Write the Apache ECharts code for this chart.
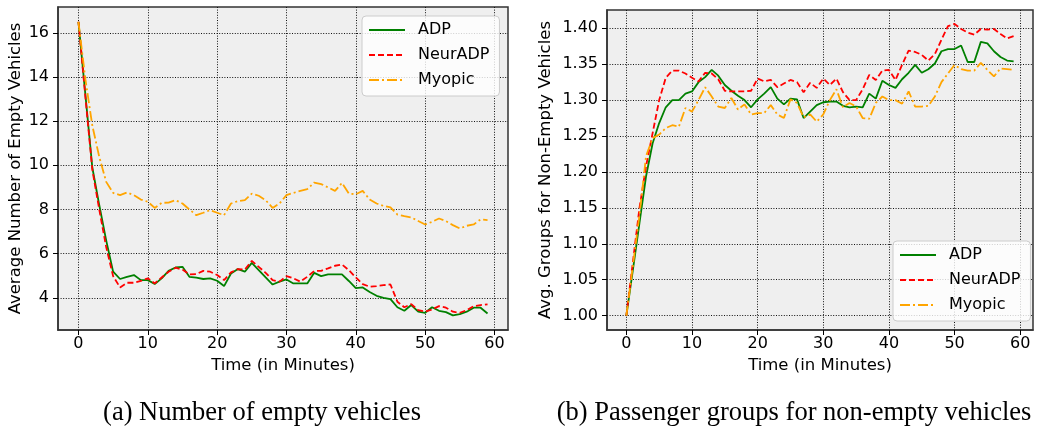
<!DOCTYPE html>
<html>
<head>
<meta charset="utf-8">
<script src="https://cdn.jsdelivr.net/npm/echarts@6/dist/echarts.min.js"></script>
<style>
  html, body { margin: 0; padding: 0; background: #fff; }
  #chart { width: 1037px; height: 428px; }
</style>
</head>
<body>
<div id="chart"></div>
<script>
const minutes = [0, 1, 2, 3, 4, 5, 6, 7, 8, 9, 10, 11, 12, 13, 14, 15, 16, 17, 18, 19,
    20, 21, 22, 23, 24, 25, 26, 27, 28, 29, 30, 31, 32, 33, 34, 35, 36, 37, 38, 39,
    40, 41, 42, 43, 44, 45, 46, 47, 48, 49, 50, 51, 52, 53, 54, 55, 56, 57, 58, 59];
const seriesNames = ['ADP', 'NeurADP', 'Myopic'];

// (a) average number of empty vehicles
const emptyAdp = [16.5, 13.2, 9.9, 8.2, 6.6, 5.18, 4.85, 4.95, 5.03, 4.8, 4.8, 4.62, 4.88, 5.22, 5.37, 5.4, 4.95, 4.91, 4.85, 4.88,
    4.77, 4.53, 5.1, 5.3, 5.18, 5.58, 5.25, 4.92, 4.6, 4.73, 4.83, 4.65, 4.65, 4.65, 5.13, 4.98, 5.06, 5.06, 5.06, 4.76,
    4.44, 4.47, 4.26, 4.09, 4.0, 3.94, 3.57, 3.41, 3.67, 3.37, 3.32, 3.57, 3.41, 3.35, 3.2, 3.26, 3.37, 3.55, 3.55, 3.29];
const emptyNeur = [16.5, 13.1, 9.8, 8.0, 6.3, 4.98, 4.47, 4.68, 4.68, 4.76, 4.88, 4.65, 4.92, 5.18, 5.36, 5.28, 5.06, 5.07, 5.22, 5.18,
    5.03, 4.8, 5.15, 5.3, 5.28, 5.67, 5.4, 5.13, 4.8, 4.73, 4.98, 4.88, 4.73, 4.95, 5.21, 5.22, 5.33, 5.45, 5.51, 5.25,
    4.92, 4.62, 4.5, 4.53, 4.57, 4.6, 3.82, 3.57, 3.71, 3.44, 3.37, 3.47, 3.62, 3.55, 3.37, 3.32, 3.44, 3.62, 3.67, 3.7];
const emptyMyopic = [16.5, 13.9, 11.8, 10.38, 9.25, 8.75, 8.65, 8.77, 8.65, 8.45, 8.35, 8.07, 8.3, 8.31, 8.42, 8.27, 8.0, 7.74, 7.85, 7.97,
    7.85, 7.74, 8.27, 8.38, 8.42, 8.72, 8.62, 8.42, 8.07, 8.27, 8.65, 8.75, 8.84, 8.92, 9.22, 9.15, 9.0, 8.84, 9.2, 8.72,
    8.69, 8.84, 8.45, 8.27, 8.16, 8.09, 7.77, 7.7, 7.64, 7.48, 7.32, 7.44, 7.59, 7.47, 7.29, 7.14, 7.26, 7.32, 7.55, 7.52];

// (b) avg. passenger groups for non-empty vehicles
const groupsAdp = [1.0, 1.064, 1.129, 1.194, 1.24, 1.268, 1.29, 1.3, 1.3, 1.309, 1.312, 1.325, 1.332, 1.342, 1.334, 1.321, 1.313, 1.306, 1.3, 1.29,
    1.301, 1.309, 1.318, 1.302, 1.294, 1.302, 1.301, 1.275, 1.284, 1.293, 1.297, 1.298, 1.298, 1.292, 1.29, 1.291, 1.29, 1.309, 1.302, 1.327,
    1.321, 1.317, 1.329, 1.338, 1.349, 1.338, 1.343, 1.351, 1.368, 1.371, 1.371, 1.376, 1.353, 1.353, 1.381, 1.379, 1.368, 1.36, 1.355, 1.354];
const groupsNeur = [1.0, 1.075, 1.15, 1.208, 1.254, 1.3, 1.331, 1.341, 1.341, 1.337, 1.331, 1.326, 1.338, 1.337, 1.329, 1.313, 1.312, 1.312, 1.312, 1.313,
    1.33, 1.326, 1.328, 1.318, 1.323, 1.328, 1.325, 1.311, 1.324, 1.317, 1.33, 1.321, 1.33, 1.311, 1.3, 1.3, 1.315, 1.335, 1.328, 1.341,
    1.342, 1.328, 1.349, 1.369, 1.367, 1.363, 1.355, 1.364, 1.384, 1.403, 1.406, 1.399, 1.394, 1.391, 1.399, 1.398, 1.399, 1.392, 1.386, 1.389];
const groupsMyopic = [1.0, 1.07, 1.14, 1.222, 1.247, 1.252, 1.261, 1.265, 1.263, 1.289, 1.284, 1.3, 1.318, 1.305, 1.291, 1.289, 1.303, 1.287, 1.294, 1.28,
    1.282, 1.282, 1.293, 1.28, 1.275, 1.301, 1.296, 1.276, 1.28, 1.27, 1.28, 1.3, 1.315, 1.29, 1.296, 1.291, 1.275, 1.274, 1.296, 1.305,
    1.3, 1.3, 1.295, 1.312, 1.291, 1.291, 1.292, 1.305, 1.325, 1.337, 1.349, 1.343, 1.341, 1.341, 1.352, 1.342, 1.333, 1.344, 1.343, 1.342];

const xTicks = [0, 10, 20, 30, 40, 50, 60];
const yTicksEmpty = [4, 6, 8, 10, 12, 14, 16];
const yTicksGroups = [1.0, 1.05, 1.1, 1.15, 1.2, 1.25, 1.3, 1.35, 1.4];
const captions = ['(a) Number of empty vehicles', '(b) Passenger groups for non-empty vehicles'];

const font = 'DejaVu Sans';
const colors = ['#008000', '#ff0000', '#ffa500'];
const dashes = ['solid', [6, 3], [10, 3, 2, 3]];

const chart = echarts.init(document.getElementById('chart'), null, { renderer: 'canvas' });

const pairs = (vals) => minutes.map((t, i) => [t, vals[i]]);

function makeSeries(gridIdx, lists) {
    return lists.map((vals, i) => ({
        name: seriesNames[i],
        type: 'line',
        xAxisIndex: gridIdx,
        yAxisIndex: gridIdx,
        data: pairs(vals),
        symbol: 'none',
        z: 3 + i,
        lineStyle: { color: colors[i], width: 1.8, type: dashes[i] },
        itemStyle: { color: colors[i] },
    }));
}

const tickLabel = { color: '#000', fontFamily: font, fontSize: 16 };
const splitLine = { show: true, lineStyle: { color: '#111', width: 1, type: [1, 1.6] } };
const axisLine = { show: true, onZero: false, lineStyle: { color: '#333', width: 1.5 } };

function xAxis(gridIdx) {
    return {
        type: 'value', gridIndex: gridIdx, min: -2.95, max: 61.95,
        name: 'Time (in Minutes)', nameLocation: 'middle', nameGap: 26,
        nameTextStyle: { color: '#000', fontFamily: font, fontSize: 16.5 },
        axisLine,
        axisTick: { show: true, customValues: xTicks, length: 5, lineStyle: { color: '#000' } },
        axisLabel: { ...tickLabel, customValues: xTicks, margin: 6 },
        splitLine,
    };
}

function yAxis(gridIdx, min, max, ticks, name, gap, digits) {
    return {
        type: 'value', gridIndex: gridIdx, min, max,
        name, nameLocation: 'middle', nameGap: gap,
        nameTextStyle: { color: '#000', fontFamily: font, fontSize: 16.5 },
        axisLine,
        axisTick: { show: true, customValues: ticks, length: 5, lineStyle: { color: '#000' } },
        axisLabel: { ...tickLabel, customValues: ticks, margin: 9, formatter: (v) => v.toFixed(digits) },
        splitLine,
    };
}

// legend with plain line samples (the circle marker is hidden)
function legend(left, top) {
    return {
        left, top, orient: 'vertical',
        data: seriesNames,
        itemWidth: 36, itemHeight: 12, itemGap: 7,
        padding: [5, 10, 7, 6],
        backgroundColor: 'rgba(255,255,255,0.8)',
        borderColor: '#cccccc', borderWidth: 1, borderRadius: 4,
        itemStyle: { opacity: 0 },
        textStyle: { color: '#000', fontFamily: font, fontSize: 16, lineHeight: 18, padding: [0, 0, 0, 8] },
        selectedMode: false,
    };
}

function caption(text, x) {
    return {
        type: 'text', x, y: 413,
        style: {
            text, textAlign: 'center', textVerticalAlign: 'middle',
            font: '26.5px "Liberation Serif"', fill: '#000',
        },
    };
}

const option = {
    animation: false,
    backgroundColor: '#fff',
    grid: [
        { left: 58, top: 7, width: 450, height: 323, show: true, backgroundColor: '#efefef', borderColor: '#333', borderWidth: 1.5 },
        { left: 607, top: 10, width: 426, height: 320, show: true, backgroundColor: '#efefef', borderColor: '#333', borderWidth: 1.5 },
    ],
    legend: [legend(362, 16), legend(893, 241)],
    xAxis: [xAxis(0), xAxis(1)],
    yAxis: [
        yAxis(0, 2.54, 17.17, yTicksEmpty, 'Average Number of Empty Vehicles', 34, 0),
        yAxis(1, 0.98, 1.4254, yTicksGroups, 'Avg. Groups for Non-Empty Vehicles', 53, 2),
    ],
    graphic: [caption(captions[0], 262), caption(captions[1], 794)],
    series: [
        ...makeSeries(0, [emptyAdp, emptyNeur, emptyMyopic]),
        ...makeSeries(1, [groupsAdp, groupsNeur, groupsMyopic]),
    ],
};

chart.setOption(option);
</script>
</body>
</html>
